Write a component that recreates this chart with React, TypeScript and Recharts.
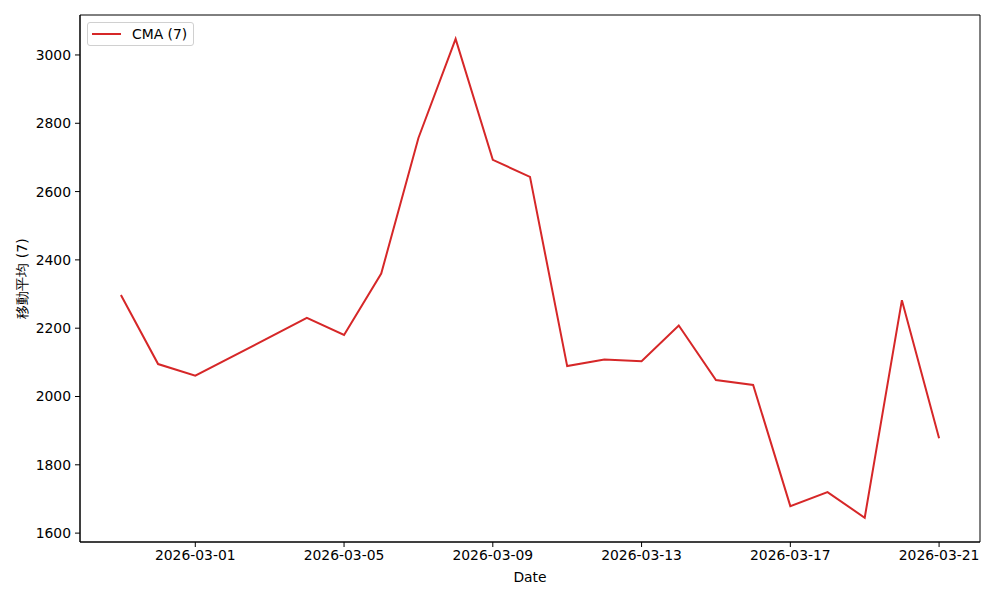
import { LineChart, Line, XAxis, YAxis, ReferenceArea } from "recharts";

const dates = [
  "2026-02-27", "2026-02-28", "2026-03-01", "2026-03-04", "2026-03-05", "2026-03-06",
  "2026-03-07", "2026-03-08", "2026-03-09", "2026-03-10", "2026-03-11", "2026-03-12",
  "2026-03-13", "2026-03-14", "2026-03-15", "2026-03-16", "2026-03-17", "2026-03-18",
  "2026-03-19", "2026-03-20", "2026-03-21",
];
const cma = [
  2297, 2095, 2061, 2230, 2180, 2360, 2757, 3047, 2693, 2643, 2089, 2108,
  2103, 2208, 2048, 2034, 1679, 1720, 1645, 2282, 1878,
];
const xTickDates = ["2026-03-01", "2026-03-05", "2026-03-09", "2026-03-13", "2026-03-17", "2026-03-21"];
const yTicks = [1600, 1800, 2000, 2200, 2400, 2600, 2800, 3000];

const DAY = 86400000;
const base = Date.UTC(2026, 1, 27);
const toDay = (s: string) => {
  const [y, m, d] = s.split("-").map(Number);
  return Math.round((Date.UTC(y, m - 1, d) - base) / DAY);
};
const fmtDay = (v: number) => new Date(base + v * DAY).toISOString().slice(0, 10);

const data = dates.map((d, i) => ({ x: toDay(d), cma: cma[i] }));
const xTicks = xTickDates.map(toDay);

const X_DOM: [number, number] = [-1.1, 23.1];
const Y_DOM: [number, number] = [1574, 3117];
const font = "DejaVu Sans, sans-serif";
const tickStyle = { fontSize: 13.9, fill: "#000", fontFamily: font };

function LegendBox() {
  return (
    <div
      style={{
        position: "absolute",
        left: 87,
        top: 22,
        border: "1px solid #d0d0d0",
        borderRadius: 3,
        background: "rgba(255,255,255,0.8)",
        padding: "3px 6px 3px 4px",
        display: "flex",
        alignItems: "center",
        fontFamily: font,
        fontSize: 13.9,
        color: "#000",
      }}
    >
      <span style={{ display: "inline-block", width: 29, height: 2, background: "#d62728", marginRight: 11 }} />
      <span>CMA (7)</span>
    </div>
  );
}

export default function App() {
  return (
    <div style={{ position: "absolute", left: 0, top: 0, width: 1000, height: 600, background: "#fff" }}>
      <LineChart width={1000} height={600} data={data} margin={{ top: 15, right: 20, bottom: 0, left: 0 }}>
        <XAxis
          dataKey="x"
          type="number"
          domain={X_DOM}
          ticks={xTicks}
          tickFormatter={fmtDay}
          allowDataOverflow
          height={58}
          stroke="#000"
          tick={tickStyle}
          tickSize={5}
          tickMargin={3}
          label={{ value: "Date", position: "insideBottom", offset: 18, style: { ...tickStyle } }}
        />
        <YAxis
          type="number"
          domain={Y_DOM}
          ticks={yTicks}
          allowDataOverflow
          width={80}
          stroke="#000"
          tick={tickStyle}
          tickSize={5}
          tickMargin={4}
          label={{
            value: "移動平均 (7)",
            angle: -90,
            position: "insideLeft",
            offset: 22,
            style: { ...tickStyle, textAnchor: "middle" },
          }}
        />
        <ReferenceArea x1={X_DOM[0]} x2={X_DOM[1]} y1={Y_DOM[0]} y2={Y_DOM[1]} fill="none" stroke="#000" strokeWidth={1} ifOverflow="visible" />
        <Line
          type="linear"
          dataKey="cma"
          stroke="#d62728"
          strokeWidth={2}
          dot={false}
          activeDot={false}
          isAnimationActive={false}
        />
      </LineChart>
      <LegendBox />
    </div>
  );
}
